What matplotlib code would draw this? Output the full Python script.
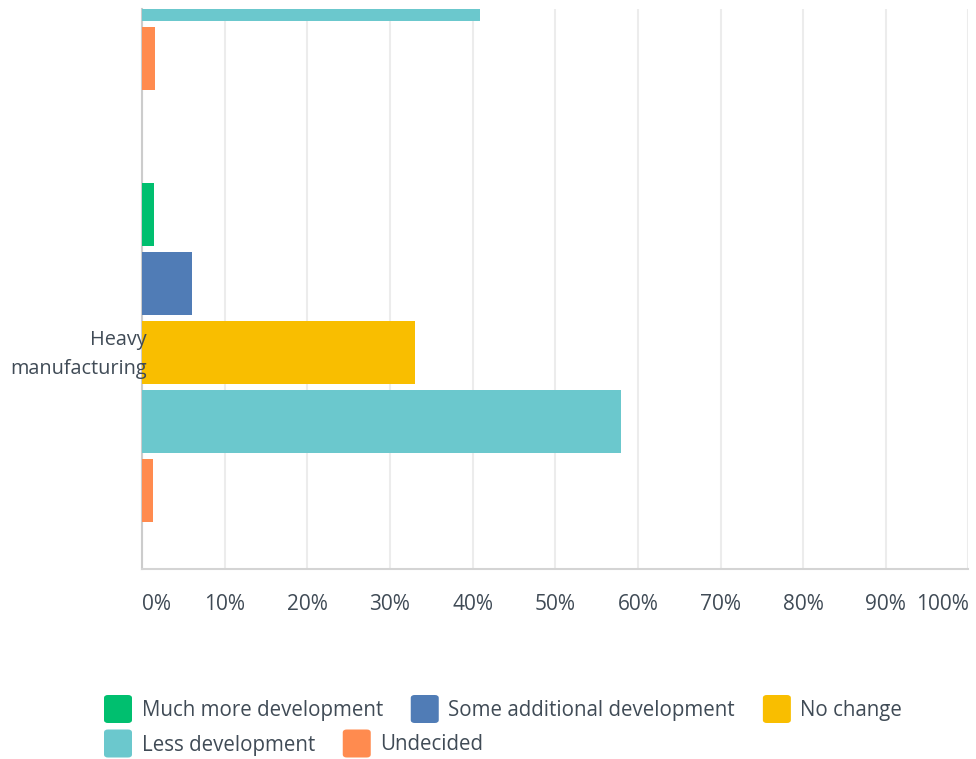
import matplotlib
matplotlib.use("Agg")
import matplotlib.pyplot as plt
from matplotlib.patches import FancyBboxPatch
import numpy as np

plt.rcParams['font.family'] = ['Open Sans', 'DejaVu Sans']

categories = ["", "Heavy\nmanufacturing"]
series = ["Much more development", "Some additional development", "No change",
          "Less development", "Undecided"]
values = {
    "Much more development":       [0.0, 1.5],
    "Some additional development": [0.0, 6.0],
    "No change":                   [0.0, 33.0],
    "Less development":            [40.9, 57.9],
    "Undecided":                   [1.6, 1.3],
}
colors = ["#00bf6f", "#507cb6", "#f9be00", "#6bc8cd", "#ff8b4f"]
xticks = list(range(0, 101, 10))
xtick_labels = [f"{t}%" for t in xticks]

TEXT = "#404b56"
W, H = 976, 759
fig = plt.figure(figsize=(W / 100, H / 100), dpi=100)
ax = fig.add_axes([142 / W, (H - 569) / H, 826.5 / W, 560 / H])

pitch = 69 / 432
bar_h = 63 / 432
y0 = np.arange(len(categories))
for i, (s, c) in enumerate(zip(series, colors)):
    ax.barh(y0 + (i - 2) * pitch, values[s], height=bar_h, color=c, zorder=3)

ax.set_xlim(0, 100)
ax.set_xticks(xticks)
ax.set_xticklabels(xtick_labels, fontsize=15, color=TEXT)
lbls = ax.get_xticklabels()
lbls[0].set_ha('left')
lbls[-1].set_ha('right')
ax.tick_params(axis='x', length=0, pad=18)
ax.set_yticks([])
ax.set_ylim(1.5012, 0.2049)
for yy, name in zip(y0, categories):
    ax.annotate(name, xy=(0, yy), xycoords=('axes fraction', 'data'),
                xytext=(5, -2), textcoords='offset pixels', ha='right',
                va='center', fontsize=14.3, color=TEXT, linespacing=1.62,
                zorder=6, annotation_clip=False)
ax.grid(axis='x', color='#ececec', linewidth=1.5, zorder=0)
for side in ['top', 'right']:
    ax.spines[side].set_visible(False)
ax.spines['left'].set_color('#cccccc')
ax.spines['left'].set_linewidth(1.5)
ax.spines['bottom'].set_color('#d4d4d4')
ax.spines['bottom'].set_linewidth(1.5)

# legend (flow layout, in pixels)
fig.canvas.draw()
renderer = fig.canvas.get_renderer()
rows = [[0, 1, 2], [3, 4]]
row_y = [709, 743.5]
sq = 28
for r, idxs in zip(row_y, rows):
    x = 104
    for i in idxs:
        patch = FancyBboxPatch((x / W, (H - r - sq / 2) / H), sq / W, sq / H,
                               boxstyle="round,pad=0,rounding_size=0.004",
                               transform=fig.transFigure, facecolor=colors[i],
                               edgecolor='none')
        fig.add_artist(patch)
        t = fig.text((x + 37.5) / W, (H - r - 1.5) / H, series[i],
                     fontsize=14.8, color=TEXT, va='center', ha='left')
        bb = t.get_window_extent(renderer)
        x = x + 37.5 + bb.width + 28

fig.savefig("out.png", dpi=100)
